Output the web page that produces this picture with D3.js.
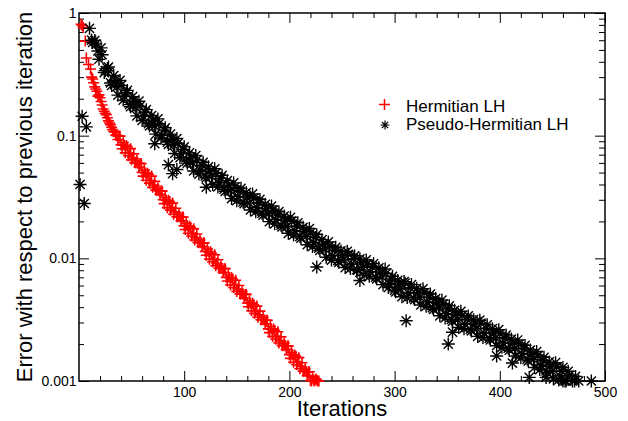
<!DOCTYPE html>
<html>
<head>
<meta charset="utf-8">
<script src="https://cdn.jsdelivr.net/npm/d3@7"></script>
<style>
body { margin: 0; background: #fff; }
svg { display: block; font-family: "Liberation Sans", Arial, sans-serif; }
</style>
</head>
<body>
<div id="chart"></div>
<script>
// [iteration, error]
const hermitianLH = [
  [2,0.81],[3,0.79],[4,0.76],[6,0.59],[7,0.43],[9,0.38],[11,0.35],[12,0.30],[13,0.29],[14,0.27],
  [15,0.25],[16,0.24],[17,0.23],[18,0.21],[19,0.215],[20,0.204],[21,0.19],[22,0.178],[23,0.165],
  [24,0.158],[25,0.152],[26,0.148],[27,0.14],[28,0.132],[29,0.127],[30,0.123],[31,0.117],[32,0.112],
  [33,0.108],[34,0.107],[35,0.101],
  [36,0.100],[38,0.0995],[40,0.0841],[42,0.0877],[44,0.0724],[46,0.0809],[48,0.0718],[50,0.0635],
  [52,0.0710],[54,0.0600],[56,0.0597],[58,0.0594],[60,0.0502],[62,0.0524],[64,0.0433],[66,0.0483],
  [68,0.0429],[70,0.0379],[72,0.0424],[74,0.0358],[76,0.0356],[78,0.0355],[80,0.0300],[82,0.0313],
  [84,0.0259],[86,0.0290],[88,0.0258],[90,0.0229],[92,0.0256],[94,0.0218],[96,0.0217],[98,0.0216],
  [100,0.0184],[102,0.0192],[104,0.0160],[106,0.0179],[108,0.0159],[110,0.0141],[112,0.0158],
  [114,0.0134],[116,0.0134],[118,0.0133],[120,0.0114],[122,0.0119],[124,0.00985],[126,0.0110],
  [128,0.0098],[130,0.00871],[132,0.00975],[134,0.00828],[136,0.00826],[138,0.00824],[140,0.0070],
  [142,0.00731],[144,0.00607],[146,0.00679],[148,0.00604],[150,0.00537],[152,0.00601],[154,0.00511],
  [156,0.0051],[158,0.00508],[160,0.00432],[162,0.00451],[164,0.00374],[166,0.00419],[168,0.00372],
  [170,0.00331],[172,0.00371],[174,0.00315],[176,0.00314],[178,0.00313],[180,0.00266],[182,0.00278],
  [184,0.00231],[186,0.00258],[188,0.0023],[190,0.00204],[192,0.00229],[194,0.00194],[196,0.00194],
  [198,0.00193],[200,0.00164],[202,0.00171],[204,0.00142],[206,0.00159],[208,0.00142],[210,0.00126],
  [212,0.00141],[214,0.0012],[216,0.00119],[218,0.00119],[220,0.00101],[222,0.00106],[224,0.0010],
  [226,0.00102],[228,0.0010],
  [37,0.0931],[39,0.0991],[41,0.0783],[43,0.0835],[45,0.0830],[47,0.0687],[49,0.0784],[51,0.0664],
  [53,0.0603],[55,0.0627],[57,0.0556],[59,0.0592],[61,0.0468],[63,0.0499],[65,0.0495],[67,0.0410],
  [69,0.0468],[71,0.0396],[73,0.0360],[75,0.0374],[77,0.0332],[79,0.0353],[81,0.0279],[83,0.0298],
  [85,0.0297],[87,0.0247],[89,0.0282],[91,0.0240],[93,0.0218],[95,0.0228],[97,0.0203],[99,0.0217],
  [101,0.0172],[103,0.0184],[105,0.0183],[107,0.0152],[109,0.0174],[111,0.0148],[113,0.0135],
  [115,0.0141],[117,0.0125],[119,0.0134],[121,0.0106],[123,0.0113],[125,0.0113],[127,0.00938],
  [129,0.0107],[131,0.00912],[133,0.0083],[135,0.00867],[137,0.00771],[139,0.00824],[141,0.00653],
  [143,0.00698],[145,0.00697],[147,0.00578],[149,0.00662],[151,0.00562],[153,0.00512],[155,0.00535],
  [157,0.00475],[159,0.00508],[161,0.00403],[163,0.00431],[165,0.0043],[167,0.00356],[169,0.00408],
  [171,0.00347],[173,0.00316],[175,0.0033],[177,0.00293],[179,0.00313],[181,0.00248],[183,0.00265],
  [185,0.00265],[187,0.0022],[189,0.00252],[191,0.00214],[193,0.00195],[195,0.00203],[197,0.00181],
  [199,0.00193],[201,0.00153],[203,0.00164],[205,0.00163],[207,0.00136],[209,0.00155],[211,0.00132],
  [213,0.0012],[215,0.00125],[217,0.00111],[219,0.00119],[221,0.0010],[223,0.00102],[225,0.00104],
  [227,0.0010]
]

const pseudoHermitianLH = [
  [1,0.040],[3,0.144],[5,0.028],[7,0.118],
  [10,0.75],[13,0.575],[16,0.56],[19,0.42],[22,0.457],[25,0.339],[28,0.363],[31,0.257],[34,0.282],
  [37,0.214],[40,0.257],[43,0.209],[46,0.234],[49,0.172],[52,0.191],[55,0.145],[58,0.174],[61,0.144],
  [64,0.163],[67,0.120],[70,0.134],[72,0.086],[73,0.103],[76,0.125],[79,0.100],[82,0.116],[85,0.0849],
  [85,0.058],[88,0.0938],[89,0.049],[91,0.0716],[93,0.053],[94,0.0867],[97,0.0711],[100,0.0811],
  [103,0.0597],[106,0.0665],[109,0.0515],[112,0.0632],[115,0.0525],[118,0.0607],[121,0.0454],
  [121,0.038],[124,0.0513],[127,0.0400],[130,0.0494],[133,0.0413],[136,0.0475],[139,0.0352],
  [142,0.0395],[145,0.0307],[148,0.0380],[151,0.0320],[154,0.0372],[157,0.0279],[160,0.0316],
  [163,0.0248],[166,0.0309],[169,0.0260],[172,0.0302],[175,0.0225],[178,0.0254],[181,0.0199],
  [184,0.0245],[187,0.0207],[190,0.0240],[193,0.0180],[196,0.0204],[199,0.0160],[202,0.0200],
  [205,0.0168],[208,0.0195],[211,0.0146],[214,0.0166],[217,0.0129],[220,0.0161],[223,0.0135],
  [226,0.0156],[226,0.0085],[229,0.0116],[232,0.0131],[235,0.0102],[238,0.0126],[241,0.0105],
  [244,0.0123],[247,0.00927],[250,0.0106],[253,0.00841],[256,0.0108],[259,0.00897],[262,0.0105],
  [265,0.0080],[267,0.0066],[268,0.00918],[271,0.0073],[274,0.00897],[277,0.00778],[280,0.00906],
  [283,0.00681],[286,0.00774],[289,0.0061],[292,0.00752],[295,0.00624],[298,0.00714],[301,0.00533],
  [304,0.00612],[307,0.00486],[310,0.00627],[311,0.0031],[313,0.00521],[316,0.00611],[319,0.00461],
  [322,0.00527],[325,0.00417],[328,0.00522],[331,0.00442],[334,0.00512],[337,0.00383],[340,0.00434],
  [343,0.0034],[346,0.00422],[349,0.00354],[351,0.0020],[352,0.0041],[355,0.00307],[355,0.0025],
  [358,0.00348],[361,0.00273],[364,0.00342],[367,0.0029],[370,0.00339],[373,0.00256],[376,0.00292],
  [379,0.00231],[382,0.00296],[385,0.00245],[388,0.00287],[391,0.00216],[394,0.00246],[397,0.00194],
  [397,0.0016],[400,0.00242],[403,0.00204],[406,0.00237],[409,0.00178],[412,0.00203],[412,0.0014],
  [415,0.0016],[418,0.00199],[421,0.00168],[424,0.00195],[427,0.00146],[428,0.00107],[430,0.00165],
  [433,0.00129],[436,0.0016],[439,0.00135],[442,0.00156],[444,0.00107],[445,0.00117],[448,0.00132],
  [451,0.00104],[454,0.0013],[457,0.0011],[460,0.00129],[460,0.0010],[463,0.0010],[466,0.00111],
  [469,0.0010],[471,0.0010],[472,0.00109],[475,0.0010],[487,0.0010],
  [12,0.60],[15,0.596],[18,0.49],[21,0.52],[24,0.327],[27,0.353],[30,0.269],[33,0.309],[36,0.251],
  [39,0.282],[42,0.195],[45,0.224],[48,0.179],[51,0.208],[54,0.170],[57,0.191],[60,0.133],[63,0.155],
  [66,0.125],[69,0.146],[72,0.120],[75,0.137],[78,0.0957],[81,0.111],[84,0.0887],[87,0.103],
  [90,0.0839],[93,0.0948],[96,0.0661],[99,0.0771],[102,0.0621],[105,0.0724],[108,0.0601],[111,0.0689],
  [114,0.0486],[117,0.0574],[120,0.0470],[123,0.0557],[126,0.0466],[129,0.0537],[132,0.0382],
  [135,0.0450],[138,0.0366],[141,0.0430],[144,0.0357],[147,0.0412],[150,0.0295],[153,0.0351],
  [156,0.0288],[159,0.0343],[162,0.0282],[165,0.0335],[168,0.0240],[171,0.0285],[174,0.0233],
  [177,0.0276],[180,0.0231],[183,0.0267],[186,0.0191],[189,0.0226],[192,0.0186],[195,0.0221],
  [198,0.0182],[201,0.0216],[204,0.0155],[207,0.0184],[210,0.0151],[213,0.0179],[216,0.0151],
  [219,0.0175],[222,0.0125],[225,0.0148],[228,0.0121],[231,0.0142],[234,0.0119],[237,0.0136],
  [240,0.00968],[243,0.0116],[246,0.00957],[249,0.0115],[252,0.00975],[255,0.0114],[258,0.00826],
  [261,0.00993],[264,0.00807],[267,0.0099],[270,0.00845],[273,0.0097],[276,0.00716],[279,0.00853],
  [282,0.00703],[285,0.00838],[288,0.00706],[291,0.00818],[294,0.00578],[297,0.00678],[300,0.0055],
  [303,0.00661],[306,0.00562],[309,0.00646],[312,0.00479],[315,0.00575],[318,0.00476],[321,0.0057],
  [324,0.00483],[327,0.00565],[330,0.00407],[333,0.00483],[336,0.00396],[339,0.0047],[342,0.00394],
  [345,0.00457],[348,0.00327],[351,0.00387],[354,0.00318],[357,0.00377],[360,0.00316],[363,0.0037],
  [366,0.00267],[369,0.00319],[372,0.00264],[375,0.00316],[378,0.00268],[381,0.00313],[384,0.00226],
  [387,0.0027],[390,0.00224],[393,0.00267],[396,0.00225],[399,0.00262],[402,0.00188],[405,0.00224],
  [408,0.00185],[411,0.0022],[414,0.00185],[417,0.00216],[420,0.00155],[423,0.00184],[426,0.00151],
  [429,0.00179],[432,0.0015],[435,0.00174],[438,0.00124],[441,0.00147],[444,0.00121],[447,0.00143],
  [450,0.0012],[453,0.00141],[456,0.00102],[459,0.00121],[462,0.0010],[465,0.0012]
]

const xTicks = [100, 200, 300, 400, 500]
const yTicks = [1, 0.1, 0.01, 0.001]
const yTickLabels = ['1', '0.1', '0.01', '0.001']
const seriesNames = ['Hermitian LH', 'Pseudo-Hermitian LH']

const width = 628
const height = 421
const plotLeft = 79, plotRight = 605, plotTop = 13, plotBottom = 381

const svg = d3.select('#chart')
  .append('svg')
  .attr('width', width)
  .attr('height', height)

const x = d3.scaleLinear().domain([0, 500]).range([plotLeft, plotRight])
const y = d3.scaleLog().domain([0.001, 1]).range([plotBottom, plotTop])

const xMinor = d3.range(20, 500, 20).filter(v => v % 100 !== 0)
const yMinor = y.ticks().filter(v => !yTicks.some(t => Math.abs(t - v) / t < 1e-6))

const addAxis = (axis, tx, ty, labels) => {
  const g = svg.append('g')
    .attr('transform', `translate(${tx},${ty})`)
    .call(axis)
  g.select('.domain').remove()
  g.selectAll('line').attr('stroke', '#000').attr('stroke-width', 1)
  g.selectAll('text').attr('fill', '#000')
    .style('font-family', '"Liberation Sans", Arial, sans-serif')
    .style('font-size', '14px')
  if (!labels) g.selectAll('text').remove()
  return g
}

// bottom
addAxis(d3.axisBottom(x).tickValues(xTicks).tickSize(-10).tickPadding(6), 0, plotBottom, true)
addAxis(d3.axisBottom(x).tickValues(xMinor).tickSize(-5), 0, plotBottom, false)
// top
addAxis(d3.axisTop(x).tickValues(xTicks).tickSize(-10), 0, plotTop, false)
addAxis(d3.axisTop(x).tickValues(xMinor).tickSize(-5), 0, plotTop, false)
// left
addAxis(d3.axisLeft(y).tickValues(yTicks).tickSize(-10).tickPadding(2.5)
  .tickFormat((d, i) => yTickLabels[i]), plotLeft, 0, true)
addAxis(d3.axisLeft(y).tickValues(yMinor).tickSize(-5), plotLeft, 0, false)
// right
addAxis(d3.axisRight(y).tickValues(yTicks).tickSize(-10), plotRight, 0, false)
addAxis(d3.axisRight(y).tickValues(yMinor).tickSize(-6), plotRight, 0, false)

svg.append('rect')
  .attr('x', plotLeft).attr('y', plotTop)
  .attr('width', plotRight - plotLeft).attr('height', plotBottom - plotTop)
  .attr('fill', 'none')
  .attr('stroke', '#000')
  .attr('stroke-width', 1.5)

const plusPath = r => `M${-r},0H${r}M0,${-r}V${r}`
const starPath = r => {
  const a = r * Math.SQRT1_2
  return `M${-r},0H${r}M0,${-r}V${r}M${-a},${-a}L${a},${a}M${-a},${a}L${a},${-a}`
}

svg.append('g')
  .selectAll('path')
  .data(hermitianLH)
  .join('path')
  .attr('transform', d => `translate(${x(d[0])},${y(d[1])})`)
  .attr('d', plusPath(5.5))
  .attr('stroke', '#ff0000')
  .attr('stroke-width', 1.6)
  .attr('fill', 'none')

svg.append('g')
  .selectAll('path')
  .data(pseudoHermitianLH)
  .join('path')
  .attr('transform', d => `translate(${x(d[0])},${y(d[1])})`)
  .attr('d', starPath(6.5))
  .attr('stroke', '#000')
  .attr('stroke-width', 1.4)
  .attr('fill', 'none')

// axis titles
svg.append('text')
  .attr('x', (plotLeft + plotRight) / 2)
  .attr('y', 416)
  .attr('text-anchor', 'middle')
  .style('font-size', '22px')
  .text('Iterations')

svg.append('text')
  .attr('transform', `translate(32,${(plotTop + plotBottom) / 2}) rotate(-90)`)
  .attr('text-anchor', 'middle')
  .style('font-size', '22px')
  .text('Error with respect to previous iteration')

// legend
const legend = svg.append('g')
legend.append('path')
  .attr('transform', 'translate(384.5,104.5)')
  .attr('d', plusPath(5.5))
  .attr('stroke', '#ff0000').attr('stroke-width', 1.5).attr('fill', 'none')
legend.append('path')
  .attr('transform', 'translate(385,125)')
  .attr('d', starPath(4.5))
  .attr('stroke', '#000').attr('stroke-width', 1.2).attr('fill', 'none')
legend.selectAll('text.lab')
  .data(seriesNames)
  .join('text')
  .attr('class', 'lab')
  .attr('x', 406)
  .attr('y', (d, i) => 111.5 + i * 18)
  .style('font-size', '17px')
  .text(d => d)
</script>
</body>
</html>
